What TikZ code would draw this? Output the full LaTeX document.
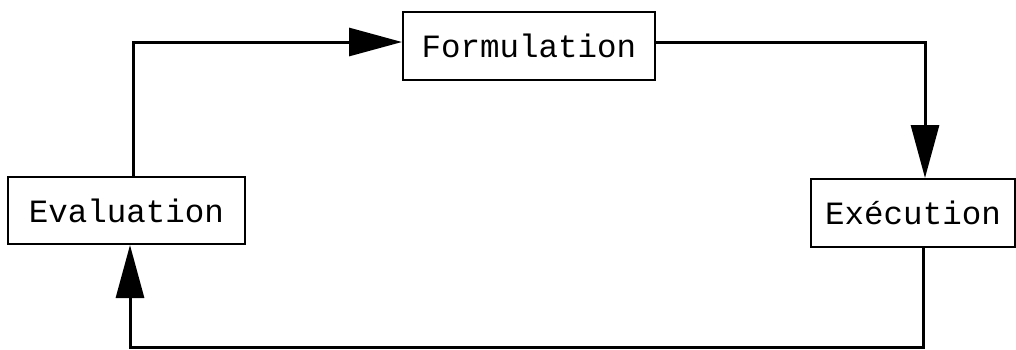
\documentclass[tikz,border=0pt]{standalone}
\usepackage{fontspec}
\setmonofont{Liberation Mono}
\usetikzlibrary{arrows.meta}
\begin{document}
\begin{tikzpicture}[x=1pt,y=1pt,
  box/.style={draw, line width=2pt, inner sep=0pt, font=\ttfamily\fontsize{32.5}{38}\selectfont, anchor=center},
  conn/.style={line width=3pt},
  arr/.style={conn, -{Triangle[length=53pt,width=28pt]}}]
\useasboundingbox (0,0) rectangle (1016,-349);
\node[box, minimum width=237pt, minimum height=67pt] (eval) at (126.5,-210.5) {Evaluation};
\node[box, minimum width=252pt, minimum height=68pt] (form) at (529,-46) {Formulation};
\node[box, minimum width=204pt, minimum height=68pt] (exec) at (913,-213) {Exécution};
\coordinate (bot) at (0,-347);
\coordinate (ein) at ([xshift=3.5pt]eval.south);
\draw[arr] ([xshift=6.5pt]eval.north) |- ([yshift=4pt]form.west);
\draw[arr] ([yshift=4pt]form.east) -| ([xshift=12pt]exec.north);
\draw[arr] ([xshift=10pt]exec.south) |- (bot -| ein) -- (ein);
\end{tikzpicture}
\end{document}
